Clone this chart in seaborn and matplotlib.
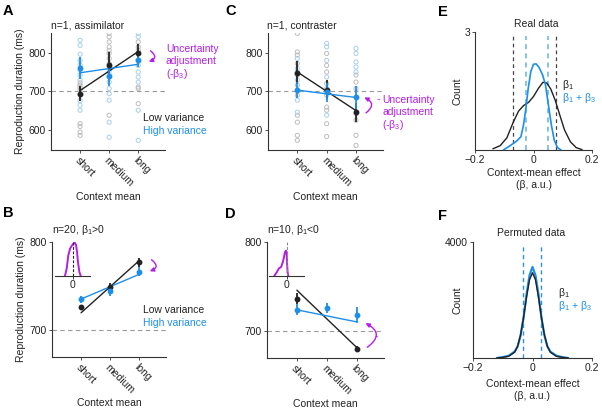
import numpy as np
import pandas as pd
import matplotlib
matplotlib.use("Agg")
import matplotlib.pyplot as plt
import seaborn as sns
from matplotlib.patches import FancyArrowPatch

# ---------------- data ----------------
conditions = ["short", "medium", "long"]

# Panel A  (n=1, assimilator) - single trials, means, s.e.m., fitted lines
A_low_trials = [[586, 594, 609, 616, 692, 703, 710, 716, 722],
                [638, 759, 772, 785, 798, 806, 815, 828, 841, 850],
                [668, 707, 711, 798, 806, 815, 828]]
A_high_trials = [[651, 664, 676, 729, 742, 755, 768, 780, 796, 819, 832],
                 [581, 620, 677, 694, 707, 724, 737, 750],
                 [573, 651, 724, 737, 750, 767, 780, 841, 850]]
A_low_mean = [694, 769, 800]
A_low_err = [20, 32, 22]
A_high_mean = [760, 739, 782]
A_high_err = [28, 25, 20]
A_low_fit = [702, 803]
A_high_fit = [748, 770]

# Panel C  (n=1, contraster)
C_low_trials = [[573, 586, 620, 638, 690, 716, 742, 772, 794, 802, 850],
                [583, 616, 651, 659, 690, 707, 720, 750, 767, 798],
                [560, 586, 625, 642, 707, 724, 742]]
C_high_trials = [[646, 677, 703, 729, 750, 759, 785],
                 [638, 737, 780, 815, 824],
                 [685, 750, 763, 776, 798, 811]]
C_low_mean = [748, 704, 646]
C_low_err = [30, 25, 25]
C_high_mean = [703, 697, 685]
C_high_err = [20, 25, 30]
C_low_fit = [750, 650]
C_high_fit = [703, 684]

# Panel B  (n=20, beta1>0) - group means
B_low_mean = [726, 749, 777]
B_low_err = [3, 5, 5]
B_high_mean = [735.5, 745, 766.5]
B_high_err = [4, 6, 5]
B_low_fit = [720, 779]
B_high_fit = [735.5, 763.5]
B_inset_x = [-0.043, -0.033, -0.024, -0.014, -0.005, 0.005, 0.012, 0.020, 0.026, 0.031, 0.039, 0.047]
B_inset_y = [0, 0.23, 0.62, 0.82, 0.90, 0.97, 1.0, 0.94, 0.72, 0.43, 0.13, 0]

# Panel D  (n=10, beta1<0)
D_low_mean = [736.5, np.nan, 680.5]
D_low_err = [6, np.nan, 3]
D_high_mean = [724, 726, 718]
D_high_err = [6, 6, 9]
D_low_fit = [746, 682]
D_high_fit = [724, 710.5]
D_inset_x = [-0.070, -0.056, -0.043, -0.031, -0.024, -0.016, -0.009, -0.003, 0.001, 0.004, 0.006, 0.010]
D_inset_y = [0, 0.11, 0.23, 0.27, 0.37, 0.52, 0.71, 0.76, 0.67, 0.32, 0.12, 0]

# Panel E  (real data)
E_b1_x = [-0.139, -0.114, -0.091, -0.069, -0.051, -0.034, -0.017, 0.0, 0.017, 0.032,
          0.046, 0.059, 0.074, 0.089, 0.106, 0.126, 0.146, 0.166]
E_b1_y = [0.03, 0.11, 0.31, 0.71, 0.99, 1.13, 1.21, 1.36, 1.57, 1.72,
          1.70, 1.55, 1.27, 0.91, 0.51, 0.21, 0.06, 0.01]
E_b13_x = [-0.103, -0.080, -0.057, -0.043, -0.034, -0.026, -0.018, -0.009, 0.0, 0.009,
           0.019, 0.031, 0.041, 0.050, 0.061, 0.071, 0.082, 0.094]
E_b13_y = [0.0, 0.11, 0.23, 0.34, 0.64, 1.06, 1.57, 2.00, 2.18, 2.19,
           2.10, 1.91, 1.66, 1.19, 0.64, 0.25, 0.06, 0.0]
E_ci_b1 = [-0.069, 0.077]
E_ci_b13 = [-0.026, 0.048]

# Panel F  (permuted data)
F_x = [-0.12, -0.10, -0.08, -0.06, -0.05, -0.04, -0.03, -0.02, -0.01, 0.0,
       0.01, 0.02, 0.03, 0.04, 0.05, 0.06, 0.08, 0.10, 0.12]
F_b1_y = [0, 20, 60, 200, 400, 800, 1400, 2100, 2700, 2940,
          2700, 2100, 1400, 800, 400, 200, 60, 20, 0]
F_b13_y = [0, 30, 80, 220, 400, 780, 1400, 2200, 2850, 3140,
           2850, 2200, 1400, 780, 400, 220, 80, 30, 0]
F_ci_b13 = [-0.031, 0.030]

# ---------------- style ----------------
sns.set_theme(style="white")
plt.rcParams["font.family"] = ["Liberation Sans", "DejaVu Sans"]
plt.rcParams["mathtext.fontset"] = "custom"
plt.rcParams["mathtext.rm"] = "Liberation Sans"
plt.rcParams["mathtext.it"] = "Liberation Sans:italic"
FS = 7.5
BLACK = "#222222"
BLUE = "#1E8FE8"
LBLUE = "#A9CFEE"
LGREY = "#BDBDBD"
PURPLE = "#B41EE8"
W, H = 602, 413

fig = plt.figure(figsize=(W / 100, H / 100), dpi=100)


def rect(l, t, r, b):
    return [l / W, 1 - b / H, (r - l) / W, (b - t) / H]


def ftext(x, y, s, **kw):
    kw.setdefault("fontsize", FS)
    fig.text(x / W, 1 - y / H, s, **kw)


def style_axes(ax):
    for s in ["top", "right"]:
        ax.spines[s].set_visible(False)
    for s in ["left", "bottom"]:
        ax.spines[s].set_color("#333333")
        ax.spines[s].set_linewidth(0.8)
    ax.tick_params(axis="both", which="both", length=2, width=0.6, pad=1.5,
                   labelsize=FS, color="#333333", labelcolor=BLACK,
                   left=True, bottom=True)


def cat_panel(ax, low_mean, low_err, high_mean, high_err, low_fit, high_fit,
              ylim, yticks, low_trials=None, high_trials=None, ylabel=True):
    xs = np.arange(len(conditions))
    if low_trials is not None:
        for trials, col in [(high_trials, LBLUE), (low_trials, LGREY)]:
            tx = np.concatenate([[i] * len(t) for i, t in enumerate(trials)])
            ty = np.concatenate(trials)
            sns.scatterplot(x=tx, y=ty, ax=ax, marker="o", s=9, fc="none",
                            ec=col, linewidth=0.7, zorder=2, legend=False)
    ax.axhline(700, color="#9A9A9A", lw=0.8, dashes=(4, 3), zorder=1)
    fit_x = [conditions.index("short"), conditions.index("long")]
    sns.lineplot(x=fit_x, y=low_fit, ax=ax, color=BLACK, lw=1.0, zorder=4)
    sns.lineplot(x=fit_x, y=high_fit, ax=ax, color=BLUE, lw=1.0, zorder=4)
    ax.errorbar(xs, low_mean, yerr=low_err, fmt="o", color=BLACK, ms=3.2,
                elinewidth=1.3, capsize=0, zorder=5)
    ax.errorbar(xs, high_mean, yerr=high_err, fmt="o", color=BLUE, ms=3.2,
                elinewidth=1.3, capsize=0, zorder=5)
    ax.set_xlim(-1.0, 2.92)
    ax.set_ylim(*ylim)
    ax.set_yticks(yticks)
    ax.set_xticks(xs)
    ax.set_xticklabels(conditions, rotation=-45, ha="left", va="top",
                       rotation_mode="anchor")
    style_axes(ax)
    ax.set_xlabel("Context mean", fontsize=FS, color=BLACK)
    ax.xaxis.set_label_coords(0.5, -0.36)
    if ylabel:
        ax.set_ylabel("Reproduction duration (ms)", fontsize=FS, color=BLACK)
    else:
        ax.set_ylabel("")


def purple_arrow(ax, p0, p1, rad):
    arr = FancyArrowPatch(p0, p1, connectionstyle=f"arc3,rad={rad}",
                          arrowstyle="-|>", mutation_scale=6, color=PURPLE,
                          lw=1.0, shrinkA=0, shrinkB=0, clip_on=False, zorder=6)
    ax.add_patch(arr)


# ---------------- Panel A ----------------
axA = fig.add_axes(rect(51, 33, 165, 150))
cat_panel(axA, A_low_mean, A_low_err, A_high_mean, A_high_err, A_low_fit,
          A_high_fit, (548, 851), [600, 700, 800], A_low_trials, A_high_trials)
axA.yaxis.set_label_coords(-0.228, 0.5)
purple_arrow(axA, (2.42, 805), (2.36, 777), -0.9)
ftext(166, 52, "Uncertainty", color=PURPLE)
ftext(166, 64, "adjustment", color=PURPLE)
ftext(166, 77, "(-β$_3$)", color=PURPLE)
ftext(143, 121, "Low variance", color=BLACK)
ftext(143, 134, "High variance", color=BLUE)
ftext(51, 28, "n=1, assimilator", color=BLACK)

# ---------------- Panel C ----------------
axC = fig.add_axes(rect(268, 33, 383, 150))
cat_panel(axC, C_low_mean, C_low_err, C_high_mean, C_high_err, C_low_fit,
          C_high_fit, (548, 851), [600, 700, 800], C_low_trials, C_high_trials,
          ylabel=False)
purple_arrow(axC, (2.34, 644), (2.28, 684), 0.8)
axC.text(2.76, 681, "-", color=PURPLE, fontsize=FS, ha="center", va="center",
         clip_on=False)
ftext(382, 103, "Uncertainty", color=PURPLE)
ftext(382, 115, "adjustment", color=PURPLE)
ftext(382, 128, "(-β$_3$)", color=PURPLE)
ftext(267, 28, "n=1, contraster", color=BLACK)

# ---------------- Panel B ----------------
axB = fig.add_axes(rect(52, 242, 166, 357))
cat_panel(axB, B_low_mean, B_low_err, B_high_mean, B_high_err, B_low_fit,
          B_high_fit, (670, 800), [700, 800])
axB.yaxis.set_label_coords(-0.228, 0.5)
axB.xaxis.set_label_coords(0.5, -0.355)
purple_arrow(axB, (2.42, 780), (2.36, 767), -0.9)
ftext(143, 313, "Low variance", color=BLACK)
ftext(143, 326, "High variance", color=BLUE)
ftext(52, 233, "n=20, β$_1$>0", color=BLACK)

insB = fig.add_axes(rect(55, 242, 90, 276))
sns.lineplot(x=B_inset_x, y=B_inset_y, ax=insB, color=PURPLE, lw=1.4, sort=False)
insB.axvline(0, color=BLACK, lw=0.8, dashes=(2.5, 1.5))
insB.set_xlim(-0.1, 0.1)
insB.set_ylim(0, 1.02)
insB.set_xticks([0])
insB.set_xticklabels(["0"])
insB.set_yticks([])
insB.patch.set_alpha(0)
for s in ["top", "right", "left"]:
    insB.spines[s].set_visible(False)
insB.spines["bottom"].set_color("#333333")
insB.spines["bottom"].set_linewidth(0.8)
insB.tick_params(axis="x", length=2, width=0.6, pad=1, labelsize=FS, bottom=True)

# ---------------- Panel D ----------------
axD = fig.add_axes(rect(267, 242, 384, 358))
cat_panel(axD, D_low_mean, D_low_err, D_high_mean, D_high_err, D_low_fit,
          D_high_fit, (670, 800), [700, 800], ylabel=False)
axD.xaxis.set_label_coords(0.5, -0.355)
purple_arrow(axD, (2.36, 682), (2.3, 709), 0.8)
axD.text(2.66, 695, "-", color=PURPLE, fontsize=FS, ha="center", va="center",
         clip_on=False)
ftext(267, 233, "n=10, β$_1$<0", color=BLACK)

insD = fig.add_axes(rect(269, 242, 304, 276))
sns.lineplot(x=D_inset_x, y=D_inset_y, ax=insD, color=PURPLE, lw=1.4, sort=False)
insD.axvline(0, color="#888888", lw=0.8, dashes=(2.5, 1.5))
insD.set_xlim(-0.1, 0.1)
insD.set_ylim(0, 1.02)
insD.set_xticks([0])
insD.set_xticklabels(["0"])
insD.set_yticks([])
insD.patch.set_alpha(0)
for s in ["top", "right", "left"]:
    insD.spines[s].set_visible(False)
insD.spines["bottom"].set_color("#333333")
insD.spines["bottom"].set_linewidth(0.8)
insD.tick_params(axis="x", length=2, width=0.6, pad=1, labelsize=FS, bottom=True)

# ---------------- Panel E ----------------
axE = fig.add_axes(rect(475, 32, 592, 150))
for x in E_ci_b1:
    axE.axvline(x, ymin=0, ymax=0.97, color="#444444", lw=0.9, dashes=(3, 2.5))
for x in E_ci_b13:
    axE.axvline(x, ymin=0, ymax=0.97, color="#6FB6EE", lw=1.2, dashes=(3, 2.5))
sns.lineplot(x=E_b1_x, y=E_b1_y, ax=axE, color=BLACK, lw=1.0, sort=False)
sns.lineplot(x=E_b13_x, y=E_b13_y, ax=axE, color=BLUE, lw=1.2, sort=False)
axE.set_xlim(-0.2, 0.2)
axE.set_ylim(0, 3)
axE.set_xticks([-0.2, 0, 0.2])
axE.set_xticklabels(["\u22120.2", "0", "0.2"])
axE.set_yticks([3])
style_axes(axE)
axE.set_xlabel("Context-mean effect\n(β, a.u.)", fontsize=FS, color=BLACK,
               linespacing=1.3)
axE.xaxis.set_label_coords(0.5, -0.15)
axE.set_ylabel("Count", fontsize=FS, color=BLACK)
axE.yaxis.set_label_coords(-0.11, 0.5)
ftext(562, 88, "β$_1$", color=BLACK)
ftext(562, 101, "β$_1$ + β$_3$", color=BLUE)
ftext(536, 27, "Real data", color=BLACK, ha="center")

# ---------------- Panel F ----------------
axF = fig.add_axes(rect(473, 242, 592, 358))
for x in F_ci_b13:
    axF.axvline(x, ymin=0, ymax=0.98, color="#2E8FD8", lw=1.0, dashes=(3, 2.5))
sns.lineplot(x=F_x, y=F_b13_y, ax=axF, color=BLUE, lw=1.6, sort=False)
sns.lineplot(x=F_x, y=F_b1_y, ax=axF, color=BLACK, lw=1.0, sort=False)
axF.set_xlim(-0.2, 0.2)
axF.set_ylim(0, 4000)
axF.set_xticks([-0.2, 0, 0.2])
axF.set_xticklabels(["\u22120.2", "0", "0.2"])
axF.set_yticks([4000])
style_axes(axF)
axF.set_xlabel("Context-mean effect\n(β, a.u.)", fontsize=FS, color=BLACK,
               linespacing=1.3)
axF.xaxis.set_label_coords(0.5, -0.18)
axF.set_ylabel("Count", fontsize=FS, color=BLACK)
axF.yaxis.set_label_coords(-0.09, 0.5)
ftext(558, 296, "β$_1$", color=BLACK)
ftext(558, 309, "β$_1$ + β$_3$", color=BLUE)
ftext(531, 236, "Permuted data", color=BLACK, ha="center")

# ---------------- panel letters ----------------
for lbl, x, y in [("A", 3, 15), ("C", 225, 15), ("E", 438, 16),
                  ("B", 3, 217), ("D", 225, 218), ("F", 438, 220)]:
    ftext(x, y, lbl, fontsize=10.5, fontweight="bold", color="black")

fig.savefig("out.png", dpi=100)
